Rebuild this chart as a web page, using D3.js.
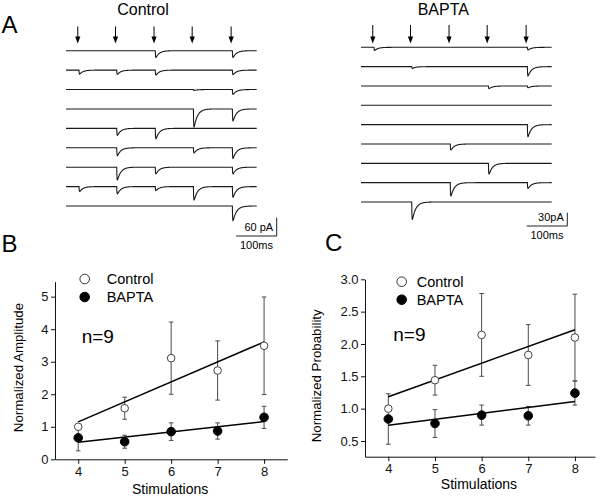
<!DOCTYPE html>
<html><head><meta charset="utf-8">
<script src="https://cdn.jsdelivr.net/npm/d3@7"></script>
<style>
html,body{margin:0;padding:0;background:#fff;}
svg{display:block;font-family:"Liberation Sans",Arial,sans-serif;}
</style></head>
<body><svg id="fig" width="600" height="496"></svg>
<script>
// ---------- Panel A data ----------
const stimTimesMs = [29, 122, 217, 311, 407];
const traceDurationMs = 470;
const traceCount = 9;
// [trace index, stimulus index (0-4), amplitude pA]
const controlEvents = [
  [0,2,22],[0,4,22],
  [1,0,13],[1,1,14],[1,2,16],[1,4,15],
  [2,3,3],[2,4,16],
  [3,3,59],[3,4,39],
  [4,1,23],[4,2,34],
  [5,1,26],[5,3,17],[5,4,35],
  [6,1,42],[6,2,22],[6,4,22],
  [7,0,16],[7,1,24],[7,2,13],[7,3,44],[7,4,35],
  [8,4,48]
];
const baptaEvents = [
  [0,0,7],[0,4,6],
  [1,1,4],[1,4,21],
  [2,3,6],[2,4,4],
  [4,4,27],
  [5,2,13.5],
  [6,3,24],
  [7,2,30],[7,4,13],
  [8,1,39]
];
const controlScaleBar = {pA: 60, ms: 100, label: "60 pA", timeLabel: "100ms"};
const baptaScaleBar = {pA: 30, ms: 100, label: "30pA", timeLabel: "100ms"};

// ---------- Panels B & C data ----------
const stimulations = [4, 5, 6, 7, 8];
const ampControlMean = [1.0, 1.57, 3.11, 2.73, 3.49];
const ampControlErr  = [0, 0.34, 1.11, 0.91, 1.5];
const ampBaptaMean   = [0.66, 0.54, 0.85, 0.87, 1.29];
const ampBaptaErr    = [0.4, 0.2, 0.27, 0.25, 0.34];
const probControlMean = [1.0, 1.44, 2.14, 1.83, 2.10];
const probControlErr  = [0, 0.23, 0.64, 0.47, 0.67];
const probBaptaMean   = [0.84, 0.77, 0.90, 0.89, 1.24];
const probBaptaErr    = [0.39, 0.215, 0.155, 0.145, 0.185];
const ampTicks = [0, 1, 2, 3, 4, 5];
const probTicks = [0.5, 1.0, 1.5, 2.0, 2.5, 3.0];
const legendLabels = ["Control", "BAPTA"];

const svg = d3.select("#fig");

// ---------- Panel A ----------
function epsc(t) { // unit-peak synaptic current template
  if (t <= 0) return 0;
  return (1 - Math.exp(-t / 0.6)) * Math.exp(-t / 8.5) / 0.77;
}
function drawTraces(cfg) {
  const g = svg.append("g");
  const x = d3.scaleLinear().domain([0, traceDurationMs]).range(cfg.xRange);
  const yBase = d3.scalePoint().domain(d3.range(traceCount)).range(cfg.yRange);
  const amp = d3.scaleLinear().domain([0, cfg.bar.pA]).range([0, cfg.barPx]);
  const times = d3.range(0, traceDurationMs + 0.01, 0.5);
  const line = d3.line().x(d => x(d[0])).y(d => d[1]);
  d3.range(traceCount).forEach(i => {
    const ev = cfg.events.filter(e => e[0] === i);
    const pts = times.map(t => {
      let v = 0;
      ev.forEach(e => { v += e[2] * epsc(t - stimTimesMs[e[1]] - 3); });
      return [t, yBase(i) + amp(v)];
    });
    g.append("path").attr("d", line(pts)).attr("fill", "none")
      .attr("stroke", "#1a1a1a").attr("stroke-width", 1.1);
  });
  // stimulus arrows
  stimTimesMs.forEach(s => {
    const ax = x(s);
    g.append("line").attr("x1", ax).attr("x2", ax).attr("y1", cfg.arrowTop).attr("y2", 38)
      .attr("stroke", "#000").attr("stroke-width", 1);
    g.append("path").attr("d", `M${ax-2.6},36.5 L${ax+2.6},36.5 L${ax},43.5 Z`).attr("fill", "#000");
  });
  // title
  g.append("text").attr("x", cfg.titleX).attr("y", cfg.titleY).attr("text-anchor", "middle")
    .attr("font-size", 16).text(cfg.title);
  // scale bar
  const bx = cfg.barX, by = cfg.barY;
  const wpx = x(cfg.bar.ms) - x(0);
  g.append("path").attr("d", `M${bx - wpx},${by} L${bx},${by} L${bx},${by - cfg.barPx}`)
    .attr("fill", "none").attr("stroke", "#222").attr("stroke-width", 1);
  g.append("text").attr("x", bx - 3.5).attr("y", by - 5.5).attr("text-anchor", "end")
    .attr("font-size", 11).text(cfg.bar.label);
  g.append("text").attr("x", bx - wpx / 2).attr("y", by + 12.5).attr("text-anchor", "middle")
    .attr("font-size", 11).text(cfg.bar.timeLabel);
}
drawTraces({events: controlEvents, xRange: [66, 256.7], yRange: [50.7, 206], bar: controlScaleBar,
  barPx: 18.3, barX: 276.7, barY: 236, arrowTop: 26.5, title: "Control", titleX: 143, titleY: 14.5});
drawTraces({events: baptaEvents, xRange: [361, 551.7], yRange: [47.3, 202], bar: baptaScaleBar,
  barPx: 13.3, barX: 567.3, barY: 226, arrowTop: 25, title: "BAPTA", titleX: 443.3, titleY: 15});

// panel letters
[["A", 1.5, 32.7], ["B", 1.5, 252.3], ["C", 325, 251]].forEach(d => {
  svg.append("text").attr("x", d[1]).attr("y", d[2]).attr("font-size", 24).text(d[0]);
});

// ---------- Panels B, C ----------
function linFit(xs, ys) {
  const mx = d3.mean(xs), my = d3.mean(ys);
  const sxy = d3.sum(xs, (v, i) => (v - mx) * (ys[i] - my));
  const sxx = d3.sum(xs, v => (v - mx) * (v - mx));
  const b = sxy / sxx;
  return v => my + b * (v - mx);
}
function drawPlot(cfg) {
  const g = svg.append("g");
  const x = d3.scaleLinear().domain(cfg.xDomain).range(cfg.xRange);
  const y = d3.scaleLinear().domain(cfg.yDomain).range(cfg.yRange);
  const xa = g.append("g").attr("transform", `translate(0,${cfg.yRange[0]})`)
    .call(d3.axisBottom(x).tickValues(stimulations).tickFormat(d3.format("d")).tickSize(4.5).tickPadding(3).tickSizeOuter(0));
  const ya = g.append("g").attr("transform", `translate(${cfg.xRange[0]},0)`)
    .call(d3.axisLeft(y).tickValues(cfg.ticks).tickFormat(cfg.fmt).tickSize(4).tickPadding(2.5).tickSizeOuter(0));
  [xa, ya].forEach(a => {
    a.attr("font-size", 13).attr("font-family", "Liberation Sans, Arial, sans-serif");
    a.selectAll("text").attr("fill", "#111");
    a.selectAll("line,path").attr("stroke", "#111");
  });
  g.append("text").attr("x", (cfg.xRange[0] + cfg.xRange[1]) / 2 - 1).attr("y", cfg.xTitleY)
    .attr("text-anchor", "middle").attr("font-size", 14).text("Stimulations");
  g.append("text").attr("transform", `translate(${cfg.yTitleX},${cfg.yTitleY}) rotate(-90)`)
    .attr("text-anchor", "middle").attr("font-size", 13.3).text(cfg.yTitle);

  const series = [
    {mean: cfg.ctrlMean, err: cfg.ctrlErr, open: true},
    {mean: cfg.baptaMean, err: cfg.baptaErr, open: false}
  ];
  // error bars
  series.forEach(s => {
    stimulations.forEach((st, i) => {
      if (!s.err[i]) return;
      const cx = x(st), y1 = y(s.mean[i] + s.err[i]), y2 = y(s.mean[i] - s.err[i]);
      g.append("path").attr("d", `M${cx},${y1} L${cx},${y2} M${cx-2.3},${y1} L${cx+2.3},${y1} M${cx-2.3},${y2} L${cx+2.3},${y2}`)
        .attr("stroke", "#4a4a4a").attr("stroke-width", 1).attr("fill", "none");
    });
  });
  // fit lines
  series.forEach(s => {
    const f = linFit(stimulations, s.mean);
    g.append("line").attr("x1", x(4)).attr("x2", x(8)).attr("y1", y(f(4))).attr("y2", y(f(8)))
      .attr("stroke", "#000").attr("stroke-width", 1.5);
  });
  // points
  series.forEach(s => {
    g.selectAll(null).data(stimulations).enter().append("circle")
      .attr("cx", d => x(d)).attr("cy", (d, i) => y(s.mean[i]))
      .attr("r", s.open ? 3.8 : 4.3)
      .attr("fill", s.open ? "#fff" : "#000")
      .attr("stroke", s.open ? "#444" : "#000").attr("stroke-width", 1);
  });
  // legend
  legendLabels.forEach((lab, i) => {
    const ly = cfg.legY + i * 18;
    g.append("circle").attr("cx", cfg.legX).attr("cy", ly).attr("r", 4.8)
      .attr("fill", i === 0 ? "#fff" : "#000").attr("stroke", i === 0 ? "#333" : "#000").attr("stroke-width", 1);
    g.append("text").attr("x", cfg.legTextX).attr("y", ly + 5).attr("font-size", 14.5).text(lab);
  });
  g.append("text").attr("x", cfg.nX).attr("y", cfg.nY).attr("font-size", 19).text("n=9");
}
drawPlot({xDomain: [3.5, 8.5], xRange: [55, 287.3], yDomain: [0, 5.46], yRange: [459.3, 281.7],
  ticks: ampTicks, fmt: d3.format("d"), xTitleY: 494, yTitleX: 22.5, yTitleY: 367.5,
  yTitle: "Normalized Amplitude",
  ctrlMean: ampControlMean, ctrlErr: ampControlErr, baptaMean: ampBaptaMean, baptaErr: ampBaptaErr,
  legX: 84.7, legY: 279, legTextX: 106.7, nX: 81.7, nY: 343.3});
drawPlot({xDomain: [3.5, 8.43], xRange: [365, 595], yDomain: [0.257, 3.0], yRange: [456.7, 279.3],
  ticks: probTicks, fmt: d3.format(".1f"), xTitleY: 489.3, yTitleX: 321.3, yTitleY: 375.8,
  yTitle: "Normalized Probability",
  ctrlMean: probControlMean, ctrlErr: probControlErr, baptaMean: probBaptaMean, baptaErr: probBaptaErr,
  legX: 401.7, legY: 281.7, legTextX: 416.7, nX: 393.3, nY: 340.7});
</script></body></html>
